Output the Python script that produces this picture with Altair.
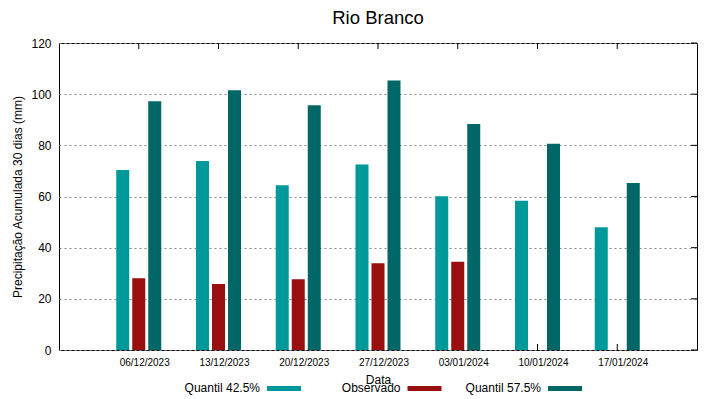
import altair as alt
import pandas as pd

dates = ["06/12/2023", "13/12/2023", "20/12/2023", "27/12/2023",
         "03/01/2024", "10/01/2024", "17/01/2024"]
series_names = ["Quantil 42.5%", "Observado", "Quantil 57.5%"]
q425 = [70.4, 73.9, 64.4, 72.5, 60.1, 58.3, 48.0]
obs = [28.0, 25.8, 27.7, 33.9, 34.5, None, None]
q575 = [97.2, 101.5, 95.7, 105.3, 88.3, 80.6, 65.3]
colors = ["#009999", "#990e0e", "#006666"]
y_ticks = [0, 20, 40, 60, 80, 100, 120]

rows = []
for i, d in enumerate(dates):
    for name, vals in zip(series_names, [q425, obs, q575]):
        if vals[i] is not None:
            rows.append({"Data": d, "Serie": name, "Valor": vals[i]})
df = pd.DataFrame(rows)
df_dates = pd.DataFrame({"Data": dates})
df_yt = pd.DataFrame({"Valor": y_ticks})
df_leg = pd.DataFrame({"Serie": series_names})

FONT = "Liberation Sans"
W, H = 638, 307

x_scale = alt.Scale(domain=dates, paddingInner=0.398, paddingOuter=0.699)
y_scale = alt.Scale(domain=[0, 120], nice=False)
c_scale = alt.Scale(domain=series_names, range=colors)

top_ticks = alt.Chart(df_dates).mark_tick(
    orient="vertical", size=6, thickness=1, yOffset=3, color="black", opacity=1
).encode(
    x=alt.X("Data:N", sort=dates, scale=x_scale),
    y=alt.value(0),
)
bottom_ticks = alt.Chart(df_dates).mark_tick(
    orient="vertical", size=6, thickness=1, yOffset=-3, color="black", opacity=1
).encode(
    x=alt.X("Data:N", sort=dates, scale=x_scale),
    y=alt.value(H),
)
right_ticks = alt.Chart(df_yt).mark_tick(
    orient="horizontal", size=6, thickness=1, color="black", opacity=1
).encode(
    x=alt.value(W - 3),
    y=alt.Y("Valor:Q", scale=y_scale),
)

bars = alt.Chart(df).mark_bar().encode(
    x=alt.X("Data:N", sort=dates, scale=x_scale,
            axis=alt.Axis(title="Data", labelAngle=0, labelFontSize=10,
                          labelOffset=31, labelPadding=12, ticks=False,
                          domain=False, grid=False, labelColor="black",
                          labelFont=FONT, titleFont=FONT, titleColor="black",
                          titleY=29, titleBaseline="middle", titleFontSize=12,
                          titleFontWeight="normal")),
    xOffset=alt.XOffset("Serie:N", sort=series_names,
                        scale=alt.Scale(domain=series_names, paddingInner=0.1875,
                                        paddingOuter=0.09375)),
    y=alt.Y("Valor:Q", scale=y_scale,
            axis=alt.Axis(values=y_ticks, title="Precipitação Acumulada 30 dias (mm)",
                          titleX=-42, titleY=153.5, titleAngle=-90,
                          titleBaseline="middle", titleFontSize=12,
                          titleFontWeight="normal", titleFont=FONT, titleColor="black",
                          labelFontSize=12, labelFont=FONT, labelColor="black",
                          labelPadding=8, ticks=False, domain=False, grid=True,
                          gridDash=[2, 3], gridColor="#888888", gridOpacity=1,
                          gridWidth=1)),
    color=alt.Color("Serie:N", scale=c_scale, legend=None),
)

plot = alt.layer(top_ticks, bottom_ticks, right_ticks, bars)

leg_x = alt.X("Serie:N", sort=series_names,
              scale=alt.Scale(type="point", domain=series_names, range=[208, 489],
                              padding=0),
              axis=None)
leg_text = alt.Chart(df_leg).mark_text(
    align="right", baseline="middle", dx=-7, fontSize=12, font=FONT, color="black"
).encode(x=leg_x, y=alt.value(345), text="Serie:N")
leg_sw = alt.Chart(df_leg).mark_tick(
    orient="horizontal", size=34, thickness=5, xOffset=17, opacity=1
).encode(x=leg_x, y=alt.value(345.5),
         color=alt.Color("Serie:N", scale=c_scale, legend=None))

chart = alt.layer(plot, leg_text, leg_sw).resolve_scale(
    x="independent"
).properties(
    width=W,
    height=H,
    title=alt.Title("Rio Branco", fontSize=18.5, fontWeight="normal", font=FONT,
                    color="black", anchor="middle", offset=10),
    autosize=alt.AutoSizeParams(type="none"),
    padding={"left": 51, "top": 35, "right": 6, "bottom": 48},
).configure(
    background="white",
    view=alt.ViewConfig(stroke="black", strokeWidth=1),
)

chart.save("out.html", embed_options={"renderer": "svg", "actions": False})
